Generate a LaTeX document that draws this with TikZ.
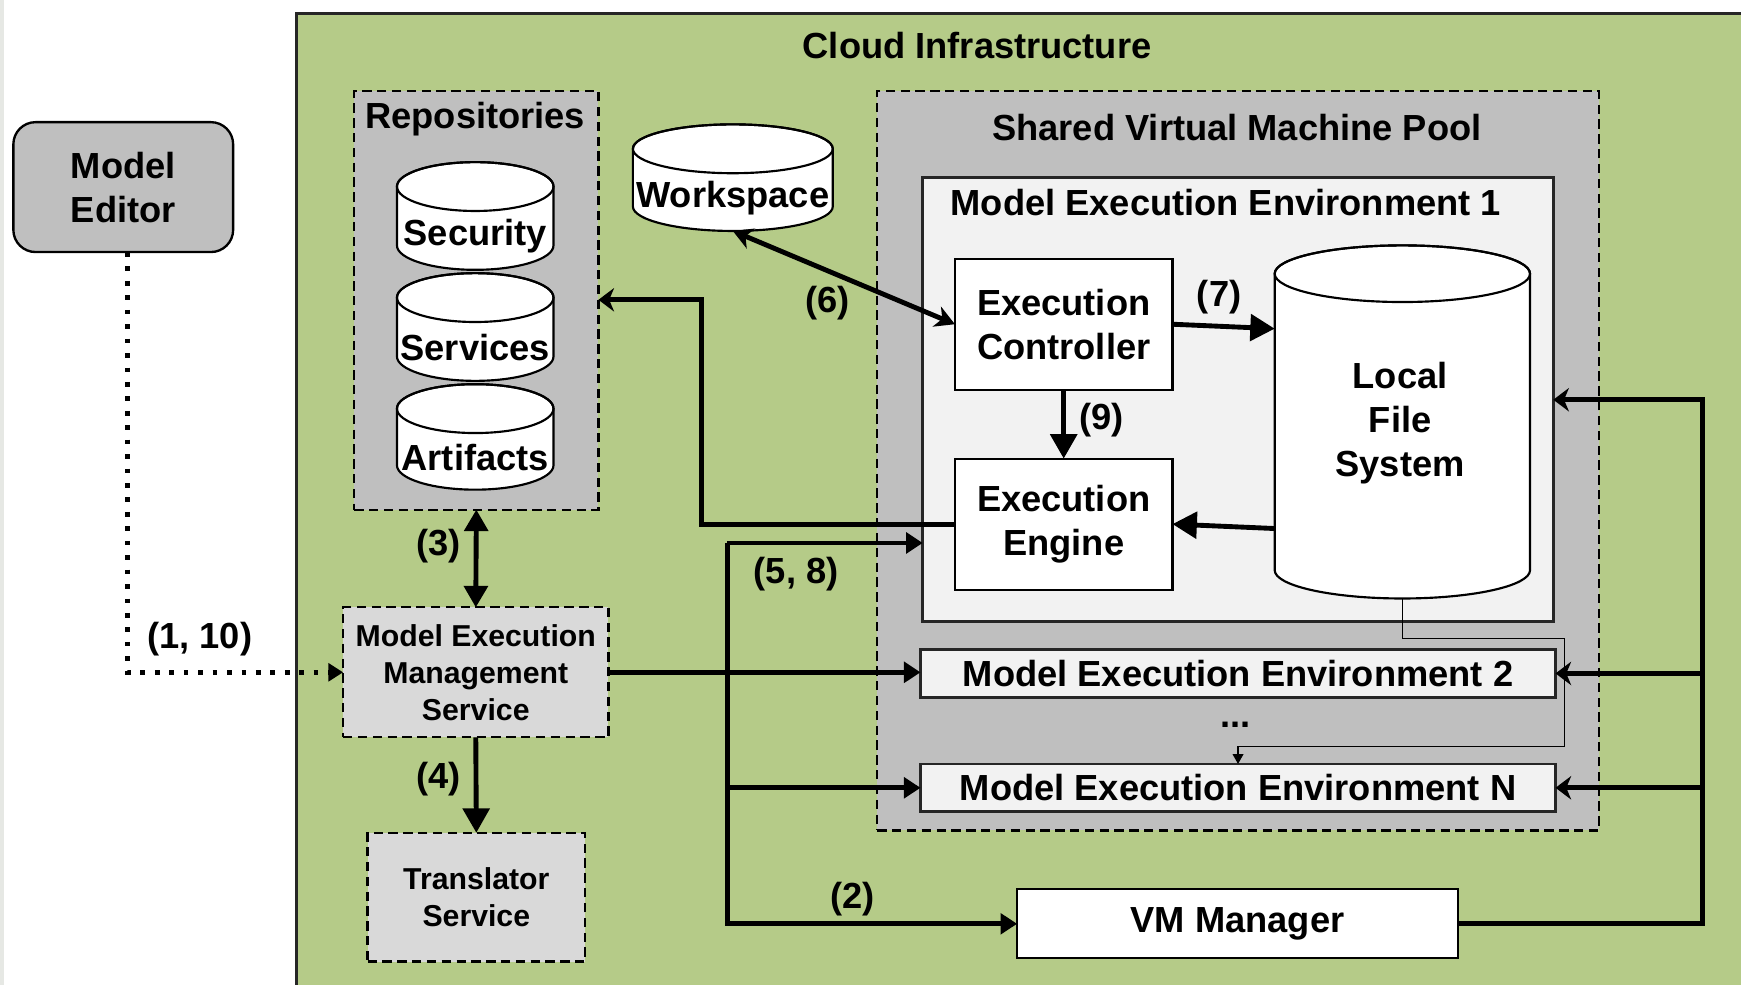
\documentclass[tikz,border=0pt]{standalone}
\usepackage{fontspec}
\setmainfont{Liberation Sans}
\usetikzlibrary{arrows.meta,calc}

\definecolor{cloudgreen}{RGB}{181,203,136}
\definecolor{poolgray}{RGB}{191,191,191}
\definecolor{envgray}{RGB}{242,242,242}
\definecolor{svcgray}{RGB}{217,217,217}
\definecolor{edgegray}{RGB}{230,232,228}

\newcommand\mainfs{\fontsize{18.6}{22.6}\selectfont\bfseries}
\newcommand\smallfs{\fontsize{15.5}{19}\selectfont\bfseries}

% database cylinder: centre x, top y, bottom y, x radius, y radius (drawing units)
\newcommand\dbshape[5]{%
  \filldraw[cylstyle] ({#1-#4},{#2+#5}) -- ({#1-#4},{#3-#5})
    arc[start angle=180,end angle=360,x radius={#4*0.02cm},y radius={#5*0.02cm}]
    -- ({#1+#4},{#2+#5})
    arc[start angle=0,end angle=180,x radius={#4*0.02cm},y radius={#5*0.02cm}] -- cycle;
  \draw[cylstyle,fill=none] (#1,{#2+#5}) ellipse[x radius={#4*0.02cm},y radius={#5*0.02cm}];
}

\begin{document}
\begin{tikzpicture}[x=0.02cm,y=-0.02cm,
  every node/.style={inner sep=0pt, outer sep=0pt, align=center, font=\mainfs},
  solidbox/.style={rectangle, draw=black, line width=1.1pt, fill=white},
  envbox/.style={rectangle, draw=black!85, line width=1.3pt, fill=envgray},
  dashbox/.style={rectangle, draw=black, line width=1.1pt, dash pattern=on 4.8pt off 2.8pt},
  cylstyle/.style={draw=black, line width=1.1pt, fill=white},
  wire/.style={line width=2.5pt},
  flow/.style={wire, -{Triangle[length=8.5pt,width=10.5pt]}},
  bigflow/.style={wire, -{Triangle[length=12.5pt,width=13.5pt]}},
  bigboth/.style={wire, {Triangle[length=11pt,width=12pt]}-{Triangle[length=11pt,width=12pt]}},
  backflow/.style={wire, -{Stealth[length=8pt,width=12pt,inset=2.5pt]}},
  linkboth/.style={wire, {Stealth[length=10pt,width=11pt,inset=3pt]}-{Stealth[length=10pt,width=11pt,inset=3pt]}},
  thinflow/.style={line width=0.6pt, -{Triangle[length=5pt,width=5.5pt]}},
  dotflow/.style={line width=2.4pt, dash pattern=on 2.4pt off 5pt, -{Triangle[length=7.5pt,width=9pt]}},
]

\useasboundingbox (0,0) rectangle (1568,887);
\begin{scope}
  \clip (0,0) rectangle (1568,887);
  \fill[edgegray] (0,0) rectangle (4,887);
  \draw[fill=cloudgreen, draw=black!85, line width=1.2pt] (267,12) rectangle (1600,920);
\end{scope}
\node (cloudtitle) at (880,41) {Cloud Infrastructure};

% client side
\node[draw=black, line width=1.2pt, fill=poolgray, rounded corners=0.4cm,
      minimum width=3.96cm, minimum height=2.34cm] (editor) at (111,168.5) {Model\\Editor};

% repositories
\node[dashbox, fill=poolgray, minimum width=4.4cm, minimum height=7.54cm] (repos) at (429,270.5) {};
\node (repostitle) at (428,107) {Repositories};
\dbshape{428}{146}{243}{70.5}{22}
\node[minimum width=2.82cm, minimum height=1.94cm] (security) at (428,194.5) {};
\node (securitytext) at (428,213) {Security};
\dbshape{428}{246}{343}{70.5}{22}
\node[minimum width=2.82cm, minimum height=1.94cm] (services) at (428,294.5) {};
\node (servicestext) at (428,313) {Services};
\dbshape{428}{346}{441}{70.5}{22}
\node[minimum width=2.82cm, minimum height=1.9cm] (artifacts) at (428,393.5) {};
\node (artifactstext) at (428,412) {Artifacts};

% workspace
\dbshape{660}{112}{208}{90}{22}
\node[minimum width=3.6cm, minimum height=1.92cm] (ws) at (660,160) {};
\node (wstext) at (660,178) {Workspace};

% services
\node[dashbox, fill=svcgray, minimum width=4.78cm, minimum height=2.34cm, font=\smallfs]
  (mems) at (428.5,605.5) {Model Execution\\Management\\Service};
\node[dashbox, fill=svcgray, minimum width=3.92cm, minimum height=2.32cm, font=\smallfs]
  (ts) at (429,808) {Translator\\Service};

% virtual machine pool
\node[dashbox, fill=poolgray, minimum width=13cm, minimum height=13.32cm] (pool) at (1115,415) {};
\node (pooltitle) at (1114,115) {Shared Virtual Machine Pool};
\node[envbox, minimum width=11.36cm, minimum height=8cm] (mee1) at (1115,360) {};
\node (mee1title) at (1104,182) {Model Execution Environment 1};
\node[solidbox, minimum width=3.92cm, minimum height=2.36cm] (ec) at (958,292) {Execution\\Controller};
\node[solidbox, minimum width=3.92cm, minimum height=2.36cm] (ee) at (958,472) {Execution\\Engine};
\dbshape{1263}{221}{539}{115}{25.5}
\node[minimum width=4.6cm, minimum height=6.36cm] (lfs) at (1263,380) {};
\node (lfstext) at (1261,381) {Local\\File\\System};
\node[envbox, minimum width=11.44cm, minimum height=0.86cm] (mee2) at (1115,606.5) {Model Execution Environment 2};
\node (dots) at (1113,653) {...};
\node[envbox, minimum width=11.44cm, minimum height=0.86cm] (meen) at (1115,709.5) {Model Execution Environment N};

\node[solidbox, minimum width=7.94cm, minimum height=1.24cm] (vm) at (1114.5,832) {VM Manager};

% connectors
\draw[dotflow] ([xshift=0.08cm]editor.south) |- (mems.west);
\draw[bigboth] (repos.south) -- (mems.north);
\draw[bigflow] (mems.south) -- (ts.north);
\draw[linkboth] (ws.south) -- (ec.west);
\draw[bigflow] (ec.east) -- ($(lfs.west |- ec.east)+(0,4)$);
\draw[bigflow] (ec.south) -- (ee.north);
\draw[bigflow] ($(lfs.west |- ee.east)+(0,4)$) -- (ee.east);
\coordinate (repoturn) at (632,270);
\draw[backflow] (ee.west) -| (repoturn) -- (repoturn -| repos.east);
\draw[flow] (mems.east) -- (mems.east -| mee2.west);
\coordinate (busL) at (655,489);
\draw[flow] (busL) -- (busL -| mee1.west);
\draw[flow] (busL) |- (vm.west);
\draw[flow] (busL |- meen.west) -- (meen.west);
\coordinate (busR) at (1533,360);
\draw[backflow] (vm.east) -| (busR) -- (busR -| mee1.east);
\draw[backflow] (busR |- mee2.east) -- (mee2.east);
\draw[backflow] (busR |- meen.east) -- (meen.east);
\coordinate (loopA) at (1409,575);
\coordinate (loopB) at (1409,672);
\draw[thinflow] (lfs.south) |- (loopA) -- (loopB) -| (meen.north);

% step labels
\node (s110) at (180,576) {(1, 10)};
\node (s3) at (395,492) {(3)};
\node (s4) at (395,702) {(4)};
\node (s6) at (745,273) {(6)};
\node (s7) at (1098,268) {(7)};
\node (s9) at (992,378) {(9)};
\node (s58) at (717,517) {(5, 8)};
\node (s2) at (768,810) {(2)};
\end{tikzpicture}
\end{document}
